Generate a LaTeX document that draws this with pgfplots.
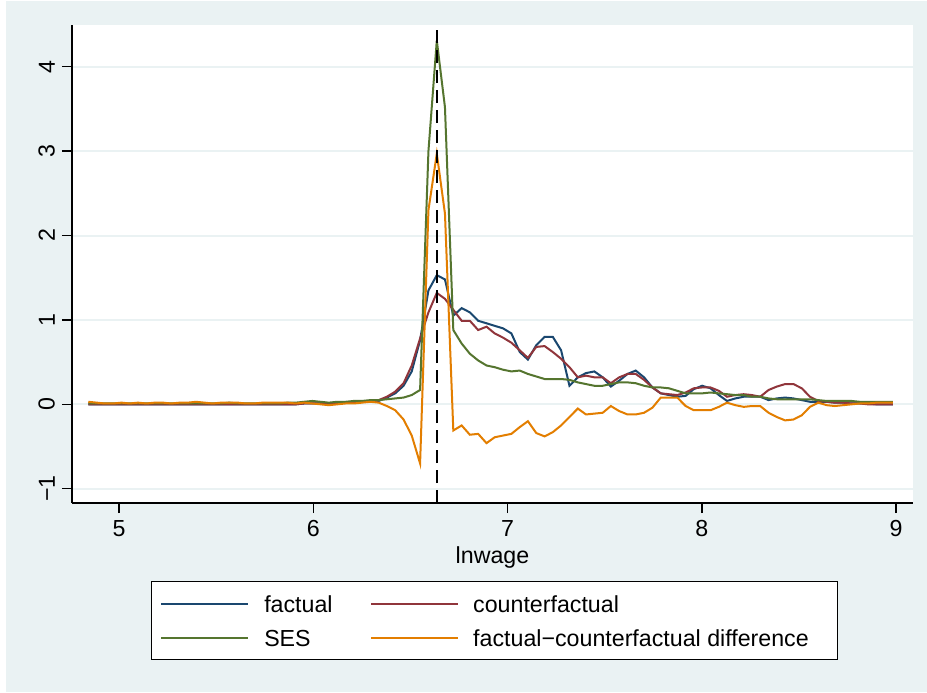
\documentclass[border=0pt]{standalone}
\usepackage{fontspec}
\setmainfont{Liberation Sans}
\usepackage{pgfplots}
\pgfplotsset{compat=1.18}
\usepackage{pgfplotstable}

\definecolor{bgblue}{RGB}{234,242,243}
\definecolor{gridc}{RGB}{234,242,243}
\definecolor{stnavy}{RGB}{26,71,111}
\definecolor{stmaroon}{RGB}{144,53,59}
\definecolor{stgreen}{RGB}{85,117,47}
\definecolor{storange}{RGB}{227,126,0}

% x = lnwage, f = factual, cf = counterfactual, ses = SES, diff = difference
\pgfplotstableread{
x f cf ses diff
4.842 0.00 0.00 0.01 0.03
4.885 0.00 0.00 0.01 0.02
4.927 0.00 0.00 0.01 0.01
4.970 0.00 0.00 0.01 0.01
5.013 0.00 0.00 0.01 0.02
5.055 0.00 0.00 0.01 0.01
5.098 0.00 0.00 0.01 0.02
5.141 0.00 0.00 0.01 0.01
5.184 0.00 0.00 0.01 0.02
5.226 0.00 0.00 0.01 0.02
5.269 0.00 0.00 0.01 0.01
5.312 0.00 0.00 0.01 0.02
5.354 0.00 0.00 0.01 0.02
5.397 0.00 0.00 0.01 0.03
5.440 0.00 0.00 0.01 0.02
5.482 0.00 0.00 0.01 0.01
5.525 0.00 0.00 0.01 0.02
5.568 0.00 0.00 0.02 0.02
5.611 0.00 0.00 0.01 0.02
5.653 0.00 0.00 0.01 0.01
5.696 0.00 0.00 0.01 0.01
5.739 0.00 0.00 0.01 0.02
5.781 0.00 0.00 0.01 0.02
5.824 0.00 0.00 0.01 0.02
5.867 0.00 0.00 0.02 0.02
5.910 0.00 0.00 0.02 0.01
5.952 0.01 0.01 0.03 0.02
5.995 0.01 0.01 0.04 0.01
6.038 0.01 0.01 0.03 0.00
6.080 0.01 0.01 0.02 -0.01
6.123 0.01 0.01 0.03 0.00
6.166 0.02 0.02 0.03 0.01
6.208 0.02 0.02 0.04 0.01
6.251 0.03 0.03 0.04 0.02
6.294 0.03 0.03 0.05 0.03
6.337 0.04 0.05 0.05 0.02
6.379 0.08 0.09 0.06 -0.02
6.422 0.13 0.15 0.07 -0.07
6.465 0.22 0.25 0.08 -0.18
6.507 0.39 0.46 0.11 -0.37
6.550 0.76 0.78 0.17 -0.70
6.593 1.35 1.09 3.00 2.30
6.636 1.53 1.32 4.31 2.97
6.678 1.48 1.25 3.52 2.26
6.721 1.05 1.12 0.88 -0.31
6.764 1.14 0.99 0.72 -0.25
6.806 1.09 0.99 0.60 -0.36
6.849 0.99 0.88 0.52 -0.35
6.892 0.96 0.92 0.46 -0.46
6.934 0.93 0.84 0.44 -0.39
6.977 0.90 0.79 0.41 -0.37
7.020 0.84 0.73 0.39 -0.35
7.063 0.62 0.64 0.40 -0.27
7.105 0.53 0.55 0.36 -0.20
7.148 0.70 0.68 0.33 -0.34
7.191 0.80 0.69 0.30 -0.38
7.233 0.80 0.62 0.30 -0.33
7.276 0.64 0.54 0.30 -0.25
7.319 0.22 0.44 0.29 -0.15
7.362 0.32 0.32 0.26 -0.05
7.404 0.37 0.34 0.24 -0.12
7.447 0.39 0.32 0.22 -0.11
7.490 0.32 0.32 0.22 -0.10
7.532 0.21 0.25 0.24 -0.02
7.575 0.28 0.32 0.26 -0.08
7.618 0.36 0.36 0.26 -0.12
7.660 0.40 0.36 0.25 -0.12
7.703 0.32 0.29 0.22 -0.10
7.746 0.20 0.20 0.20 -0.04
7.789 0.13 0.13 0.20 0.08
7.831 0.11 0.12 0.19 0.08
7.874 0.09 0.11 0.16 0.08
7.917 0.10 0.14 0.13 -0.02
7.959 0.18 0.19 0.13 -0.07
8.002 0.22 0.20 0.13 -0.07
8.045 0.19 0.20 0.14 -0.07
8.088 0.11 0.16 0.13 -0.03
8.130 0.04 0.09 0.12 0.02
8.173 0.07 0.11 0.11 -0.01
8.216 0.09 0.12 0.11 -0.03
8.258 0.09 0.11 0.09 -0.02
8.301 0.09 0.09 0.09 -0.02
8.344 0.05 0.17 0.07 -0.10
8.386 0.07 0.21 0.06 -0.15
8.429 0.08 0.24 0.06 -0.19
8.472 0.07 0.24 0.06 -0.18
8.515 0.05 0.19 0.06 -0.13
8.557 0.03 0.09 0.06 -0.03
8.600 0.03 0.04 0.05 0.02
8.643 0.03 0.03 0.04 -0.01
8.685 0.02 0.02 0.04 -0.02
8.728 0.02 0.02 0.04 -0.01
8.771 0.01 0.01 0.04 0.00
8.814 0.01 0.01 0.03 0.01
8.856 0.01 0.00 0.03 0.01
8.899 0.00 0.00 0.03 0.02
8.942 0.00 0.00 0.03 0.02
8.984 0.00 0.00 0.03 0.02
}\dens

\begin{document}
\begin{tikzpicture}[font=\fontsize{11.6}{14}\selectfont]
% graph region
\fill[white] (-36pt,-94.5pt) rectangle (427.5pt,251.5pt);
\fill[bgblue] (-33pt,-94.5pt) rectangle (427.5pt,251pt);
\begin{axis}[
  scale only axis, width=420.5pt, height=239pt,
  xmin=4.758, xmax=9.0875, ymin=-1.169, ymax=4.494,
  axis x line*=bottom, axis y line*=left,
  axis line style={line width=0.75pt, black},
  axis background/.style={fill=white},
  tick align=outside, major tick length=5pt,
  tick style={line width=0.75pt, black},
  xtick={5,6,7,8,9}, xticklabels={5,6,7,8,9},
  ytick={-1,0,1,2,3,4}, yticklabels={−1,0,1,2,3,4},
  yticklabel style={rotate=90, anchor=south},
  ymajorgrids, major grid style={draw=gridc, line width=1pt},
  xlabel={lnwage},
  xlabel style={at={(axis description cs:0.5,0)}, anchor=base, yshift=-30.2pt},
  legend columns=2, legend cell align=left,
  legend image code/.code={\draw[#1] (0pt,0pt) -- (43.5pt,0pt);},
  legend style={at={(axis description cs:0.5024,-0.1632)}, anchor=north,
    draw=black, line width=0.7pt, fill=white,
    inner xsep=4.5pt, inner ysep=5.3pt, row sep=5.6pt,
    nodes={inner sep=0pt, text height=10pt, text depth=1.4pt},
    /tikz/column 1/.style={column sep=7.5pt},
    /tikz/column 2/.style={column sep=18.8pt},
    /tikz/column 3/.style={column sep=7pt}},
  every axis plot/.append style={line width=1pt},
]
\addplot[stnavy] table[x=x, y=f] {\dens};
\addplot[stmaroon] table[x=x, y=cf] {\dens};
\addplot[stgreen] table[x=x, y=ses] {\dens};
\addplot[storange] table[x=x, y=diff] {\dens};
\addplot[black, line width=1.1pt, dash pattern=on 6.5pt off 3.5pt, forget plot]
  coordinates {(6.635,-1.169) (6.635,4.494)};
\legend{factual, counterfactual, SES, factual−counterfactual difference\hspace*{10pt}}
\end{axis}
\end{tikzpicture}
\end{document}
